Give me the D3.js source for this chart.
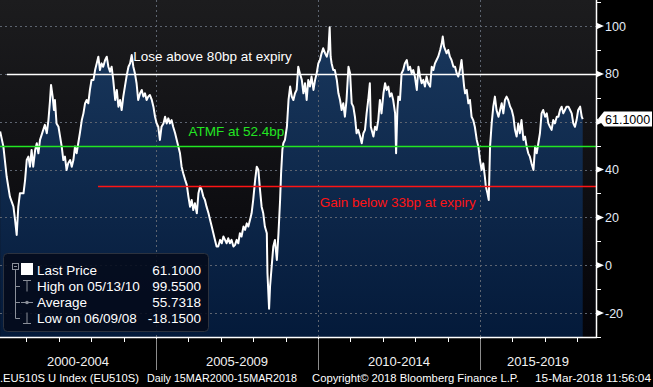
<!DOCTYPE html>
<html>
<head>
<meta charset="utf-8">
<script src="https://d3js.org/d3.v7.min.js"></script>
<style>
  body { margin: 0; background: #000; }
  svg { display: block; }
  .txt { font-family: "Liberation Sans", Arial, sans-serif; }
</style>
</head>
<body>
<div id="chart"></div>
<script>
// dates as fractional years
const dates = [
  2000.19,2000.29,2000.39,2000.49,2000.60,2000.65,2000.70,2000.75,2000.80,2000.91,2000.96,2001.01,2001.06,2001.11,2001.16,2001.21,2001.27,2001.32,2001.37,2001.42,2001.52,2001.57,2001.63,2001.68,2001.73,2001.76,2001.81,2001.85,2001.88,2001.93,2001.99,
  2002.04,2002.09,2002.14,2002.19,2002.24,2002.29,2002.35,2002.40,2002.45,2002.50,2002.55,2002.60,2002.65,2002.71,2002.76,2002.81,2002.86,2002.91,2002.96,2003.01,2003.07,2003.12,2003.17,2003.22,
  2003.27,2003.32,2003.37,2003.43,2003.48,2003.53,2003.58,2003.63,2003.68,2003.74,2003.79,2003.84,2003.89,2003.94,2003.99,2004.04,2004.09,2004.15,2004.20,2004.25,2004.30,2004.35,2004.40,2004.45,2004.51,2004.56,2004.61,2004.66,2004.71,2004.76,2004.81,2004.87,2004.92,2004.97,
  2005.02,2005.07,2005.12,2005.17,2005.23,2005.28,2005.33,2005.38,2005.43,2005.48,2005.53,2005.59,2005.64,2005.69,2005.74,2005.79,2005.84,2005.90,2005.95,2006.00,2006.05,2006.10,2006.15,2006.20,2006.26,2006.31,
  2006.36,2006.41,2006.46,2006.51,2006.56,2006.62,2006.67,2006.72,2006.77,2006.82,2006.87,2006.92,2006.98,2007.03,2007.08,2007.13,2007.18,2007.23,2007.28,2007.33,2007.39,2007.44,2007.49,2007.54,2007.59,2007.64,2007.70,2007.75,2007.80,2007.85,2007.90,2007.95,
  2008.00,2008.06,2008.11,2008.16,2008.21,2008.26,2008.31,2008.36,2008.42,2008.44,2008.49,2008.52,2008.57,2008.62,2008.67,2008.73,2008.78,2008.83,2008.86,2008.90,2008.93,2008.98,2009.04,2009.09,2009.14,2009.19,2009.24,2009.29,2009.34,2009.39,
  2009.44,2009.50,2009.55,2009.60,2009.65,2009.70,2009.75,2009.80,2009.86,2009.91,2009.96,2010.01,2010.06,2010.11,2010.16,2010.22,2010.27,2010.32,2010.36,2010.39,2010.42,2010.47,2010.52,2010.58,2010.63,2010.68,2010.73,2010.78,2010.83,2010.88,2010.94,2010.99,
  2011.04,2011.09,2011.14,2011.19,2011.24,2011.30,2011.35,2011.40,2011.45,2011.50,2011.55,2011.60,2011.63,2011.71,2011.76,2011.81,2011.86,2011.91,2011.96,2012.02,2012.07,2012.12,2012.17,2012.22,2012.27,2012.32,2012.38,2012.41,2012.45,2012.48,
  2012.53,2012.58,2012.63,2012.68,2012.74,2012.79,2012.84,2012.89,2012.94,2012.99,2013.05,2013.10,2013.15,2013.20,2013.25,2013.30,2013.35,2013.40,2013.46,2013.51,2013.56,2013.61,2013.66,2013.71,2013.77,2013.82,2013.85,2013.89,2013.97,
  2014.02,2014.07,2014.12,2014.18,2014.23,2014.28,2014.33,2014.38,2014.43,2014.46,2014.51,2014.54,2014.59,2014.64,2014.69,2014.74,2014.79,2014.84,2014.90,2014.95,2015.00,2015.05,2015.10,2015.15,2015.18,2015.23,2015.27,2015.29,2015.31,2015.36,2015.41,2015.46,2015.51,2015.57,
  2015.62,2015.67,2015.72,2015.77,2015.82,2015.87,2015.93,2015.98,2016.03,2016.08,2016.13,2016.18,2016.23,2016.28,2016.34,2016.39,2016.44,2016.49,2016.54,2016.59,2016.65,2016.70,2016.75,2016.80,2016.85,2016.90,2016.95,
  2017.01,2017.06,2017.11,2017.16,2017.21,2017.26,2017.31,2017.37,2017.42,2017.47,2017.52,2017.57,2017.62,2017.67,2017.73,2017.78,2017.83,2017.88,2017.93,2017.98,2018.03,2018.09,2018.14,2018.17
];
const values = [
  55.9,49.6,37.1,28.7,24.5,19.0,12.7,24.5,30.1,30.1,35.7,44.0,45.4,41.2,48.2,41.2,48.2,51.0,46.8,52.4,56.6,58.7,55.2,60.7,69.1,75.4,70.5,64.9,69.1,59.3,57.9,
  53.8,49.6,44.0,45.4,39.8,42.6,44.0,41.2,44.0,49.6,46.8,51.0,55.2,60.7,63.5,67.7,69.1,67.7,73.3,77.5,77.5,81.6,84.4,87.2,
  81.6,84.4,83.0,85.8,87.2,83.0,80.9,83.0,77.5,69.1,73.3,66.3,69.1,64.9,70.5,74.7,78.9,83.0,84.4,87.9,83.0,80.2,76.1,69.1,71.9,73.3,70.5,71.9,69.1,70.5,71.2,69.1,66.3,62.1,
  59.3,57.9,52.4,57.9,59.3,62.1,59.3,61.4,59.3,60.7,57.9,55.2,52.4,49.6,46.8,41.2,38.5,35.7,33.6,28.7,24.5,27.3,23.1,25.9,21.7,30.1,
  32.9,31.5,28.7,27.3,24.5,21.7,18.9,16.2,13.4,10.6,7.8,7.8,10.6,9.2,12.0,10.6,9.2,11.3,9.2,10.6,7.8,8.5,10.6,9.2,13.4,12.0,16.2,14.8,17.5,16.2,18.9,21.7,
  27.3,35.7,41.2,39.8,31.5,24.5,21.7,16.2,13.4,-3.3,-18.2,-8.9,-0.5,7.8,10.6,2.2,13.4,27.3,38.4,48.2,51.0,52.4,57.9,69.1,74.7,70.5,69.1,71.9,73.3,83.0,
  80.3,77.5,71.9,76.1,69.1,77.5,74.7,78.9,73.3,77.5,80.3,84.4,85.8,88.6,90.7,88.6,87.2,90.0,99.5,87.2,84.4,81.6,81.6,77.5,71.9,69.1,64.9,67.7,62.1,69.1,83.0,80.3,
  67.7,66.3,62.1,55.2,56.6,53.8,51.0,55.2,56.6,63.5,69.1,76.1,57.9,53.8,57.9,56.6,60.7,69.1,63.5,71.9,76.1,73.3,74.7,70.5,71.9,69.1,63.5,46.8,64.9,70.5,
  69.1,80.3,81.6,84.4,85.8,81.6,83.0,80.3,81.6,78.9,73.3,83.0,78.9,76.1,77.5,74.7,78.9,76.1,74.7,83.0,81.6,84.4,85.8,87.2,90.0,92.8,95.6,91.4,88.6,
  90.0,87.2,85.8,83.0,83.0,80.3,78.9,81.6,85.8,81.6,74.7,71.9,73.3,67.7,69.1,62.1,60.7,57.9,52.4,49.6,44.0,39.8,42.6,37.0,32.9,30.1,27.3,38.4,49.6,59.3,66.3,70.5,64.9,62.1,
  64.9,67.7,63.5,69.1,70.5,69.1,66.3,64.9,62.1,56.6,53.8,59.3,55.2,60.7,52.4,53.8,49.6,46.8,45.4,42.6,39.8,49.6,46.8,51.0,55.2,63.5,64.9,
  62.1,63.5,59.3,57.9,56.6,60.7,59.3,62.1,62.1,64.9,66.3,63.5,64.9,66.3,66.3,64.9,63.5,59.3,57.9,60.7,64.9,66.3,62.1,61.1
];

const yTicks = [-20, 0, 20, 40, 60, 80, 100];
const yMinorTicks = [-30, -10, 10, 30, 50, 70, 90, 110];
const yearTicks = [2001,2002,2003,2004,2005,2006,2007,2008,2009,2010,2011,2012,2013,2014,2015,2016,2017,2018];
const periodBreaks = [2005, 2010, 2015];
const periodLabels = ["2000-2004", "2005-2009", "2010-2014", "2015-2019"];
const periodBounds = [2000.185, 2005, 2010, 2015, 2018.58];

const refLevels = [80, 50, 33];
const refStarts = [2000.4, 2000.185, 2003.21];
const refColors = ["#ffffff", "#22e622", "#ff1414"];
const notes = ["Lose above 80bp at expiry", "ATMF at 52.4bp", "Gain below 33bp at expiry"];
const noteAt = [[2004.3, 85.5], [2006.0, 54.0], [2010.05, 24.4]];

const lastPrice = 61.1;
const legendNames = ["Last Price", "High on 05/13/10", "Average", "Low on 06/09/08"];
const legendValues = ["61.1000", "99.5500", "55.7318", "-18.1500"];
const footer = [".EU510S U Index (EU510S)", "Daily 15MAR2000-15MAR2018", "Copyright\u00A9 2018 Bloomberg Finance L.P.", "15-Mar-2018 11:56:04"];

const width = 653, height = 387;
const plotW = 596, plotH = 337;

const svg = d3.select("#chart").append("svg")
  .attr("width", width).attr("height", height);

const xScale = d3.scaleLinear().domain([2000.185, 2018.58]).range([0, plotW]);
const yScale = d3.scaleLinear().domain([-30, 110.9]).range([plotH, 0]);
const py = v => Math.round(yScale(v)) + 0.5;

const defs = svg.append("defs");
let bg = defs.append("linearGradient").attr("id", "bg")
  .attr("gradientUnits", "userSpaceOnUse").attr("x1", 0).attr("y1", 0).attr("x2", 0).attr("y2", plotH);
bg.append("stop").attr("offset", "0%").attr("stop-color", "#1c1c1e");
bg.append("stop").attr("offset", "100%").attr("stop-color", "#040409");
let fillGrad = defs.append("linearGradient").attr("id", "areaFill")
  .attr("gradientUnits", "userSpaceOnUse").attr("x1", 0).attr("y1", 0).attr("x2", 0).attr("y2", plotH);
fillGrad.append("stop").attr("offset", "0%").attr("stop-color", "#1b3a60");
fillGrad.append("stop").attr("offset", "100%").attr("stop-color", "#041a3a");

svg.append("rect").attr("width", width).attr("height", height).attr("fill", "#000");
svg.append("rect").attr("width", plotW).attr("height", plotH).attr("fill", "url(#bg)");

const data = dates.map((d, i) => ({date: d, value: values[i]}));

// area under the price
const area = d3.area().x(d => xScale(d.date)).y0(plotH).y1(d => yScale(d.value));
svg.append("path").datum(data).attr("d", area).attr("fill", "url(#areaFill)");

// dashed gridlines
const grid = svg.append("g").attr("stroke", "#5d6470").attr("stroke-dasharray", "2,3").attr("stroke-width", 1);
grid.selectAll("line.h").data(yTicks).join("line").attr("class", "h")
  .attr("x1", 0).attr("x2", plotW)
  .attr("y1", d => py(d)).attr("y2", d => py(d));
grid.selectAll("line.v").data(periodBreaks).join("line").attr("class", "v")
  .attr("y1", 0).attr("y2", plotH)
  .attr("x1", d => Math.round(xScale(d)) + 0.5).attr("x2", d => Math.round(xScale(d)) + 0.5);

// price line
const line = d3.line().x(d => xScale(d.date)).y(d => yScale(d.value));
svg.append("path").datum(data).attr("d", line)
  .attr("fill", "none").attr("stroke", "#fff").attr("stroke-width", 2).attr("stroke-linejoin", "round");

// reference levels
svg.selectAll("line.ref").data(refLevels).join("line").attr("class", "ref")
  .attr("x1", (d, i) => xScale(refStarts[i])).attr("x2", plotW)
  .attr("y1", d => py(d)).attr("y2", d => py(d))
  .attr("stroke", (d, i) => refColors[i]).attr("stroke-width", 1.5);

svg.selectAll("text.note").data(notes).join("text").attr("class", "note txt")
  .attr("x", (d, i) => xScale(noteAt[i][0])).attr("y", (d, i) => yScale(noteAt[i][1]))
  .attr("fill", (d, i) => refColors[i]).style("font-size", "13.5px")
  .text(d => d);

// legend
const leg = svg.append("g");
leg.append("rect").attr("x", 3.5).attr("y", 253.5).attr("width", 205).attr("height", 78).attr("rx", 4)
  .attr("fill", "#040a1a").attr("fill-opacity", 0.88).attr("stroke", "#2c323e");
const rowY = [275, 291, 307, 323];
leg.append("path").attr("d", `M15.5,268 V${rowY[3] - 4.5} M15.5,${rowY[1] - 4.5}H20 M15.5,${rowY[2] - 4.5}H20 M15.5,${rowY[3] - 4.5}H20`)
  .attr("stroke", "#8a8f99").attr("fill", "none");
leg.append("rect").attr("x", 12.5).attr("y", 263.5).attr("width", 6).attr("height", 6).attr("fill", "#040a1a").attr("stroke", "#8a8f99");
leg.append("line").attr("x1", 14).attr("x2", 17).attr("y1", 266.5).attr("y2", 266.5).attr("stroke", "#8a8f99");
leg.append("rect").attr("x", 21).attr("y", 263).attr("width", 12).attr("height", 12).attr("fill", "#fff");
leg.append("path").attr("d", `M23,${rowY[1] - 10.5}H31 M27,${rowY[1] - 10.5}V${rowY[1] + 0.5}`).attr("stroke", "#8a8f99").attr("fill", "none");
leg.append("path").attr("d", `M21,${rowY[2] - 4.5}H33`).attr("stroke", "#8a8f99");
leg.append("circle").attr("cx", 27).attr("cy", rowY[2] - 4.5).attr("r", 1.8).attr("fill", "#8a8f99");
leg.append("path").attr("d", `M23,${rowY[3] + 0.5}H31 M27,${rowY[3] + 0.5}V${rowY[3] - 10.5}`).attr("stroke", "#8a8f99").attr("fill", "none");
leg.selectAll("text.name").data(legendNames).join("text").attr("class", "name txt")
  .attr("x", 37).attr("y", (d, i) => rowY[i]).attr("fill", "#fff").style("font-size", "13.5px").text(d => d);
leg.selectAll("text.val").data(legendValues).join("text").attr("class", "val txt")
  .attr("x", 201).attr("y", (d, i) => rowY[i]).attr("text-anchor", "end")
  .attr("fill", "#fff").style("font-size", "13.5px").text(d => d);

// right axis
const ax = svg.append("g");
ax.append("line").attr("x1", plotW + 0.5).attr("x2", plotW + 0.5).attr("y1", 0).attr("y2", plotH + 1)
  .attr("stroke", "#fff").attr("stroke-width", 1.5);
ax.selectAll("line.minor").data(yMinorTicks).join("line").attr("class", "minor")
  .attr("x1", plotW).attr("x2", plotW + 5)
  .attr("y1", d => py(d)).attr("y2", d => py(d))
  .attr("stroke", "#fff");
ax.selectAll("path.arrow").data(yTicks).join("path").attr("class", "arrow")
  .attr("d", d => { const y = yScale(d); return `M${plotW},${y - 3.5} L${plotW + 8},${y} L${plotW},${y + 3.5} Z`; })
  .attr("fill", "#fff");
// the last price tag covers the tick label nearest to it
const shownTicks = yTicks.filter(d => Math.abs(d - lastPrice) > 5);
ax.selectAll("text.tick").data(shownTicks).join("text").attr("class", "tick txt")
  .attr("x", plotW + 9).attr("y", d => yScale(d) + 4.5)
  .attr("fill", "#e4ecf8").style("font-size", "12.5px")
  .text(d => d < 0 ? "-" + Math.abs(d) : d);

// last price tag
const ly = yScale(lastPrice);
ax.append("path")
  .attr("d", `M${plotW + 2},${ly} L${plotW + 8},${ly - 7.5} H652 V${ly + 7.5} H${plotW + 8} Z`)
  .attr("fill", "#fff");
ax.append("text").attr("class", "txt").attr("x", plotW + 9).attr("y", ly + 4.5)
  .attr("fill", "#000").style("font-size", "12.5px").text(lastPrice.toFixed(4));

// bottom axis
const bx = svg.append("g");
bx.append("line").attr("x1", 0).attr("x2", plotW + 1).attr("y1", plotH + 0.5).attr("y2", plotH + 0.5)
  .attr("stroke", "#fff").attr("stroke-width", 1.5);
bx.selectAll("line.yt").data(yearTicks).join("line").attr("class", "yt")
  .attr("x1", d => Math.round(xScale(d)) + 0.5).attr("x2", d => Math.round(xScale(d)) + 0.5)
  .attr("y1", plotH).attr("y2", plotH + 5).attr("stroke", "#fff");
bx.selectAll("line.sep").data(periodBreaks).join("line").attr("class", "sep")
  .attr("x1", d => Math.round(xScale(d)) + 0.5).attr("x2", d => Math.round(xScale(d)) + 0.5)
  .attr("y1", plotH + 2).attr("y2", 370).attr("stroke", "#8c8c8c");
bx.selectAll("text.period").data(periodLabels).join("text").attr("class", "period txt")
  .attr("x", (d, i) => (xScale(periodBounds[i]) + xScale(periodBounds[i + 1])) / 2)
  .attr("y", 366).attr("text-anchor", "middle")
  .attr("fill", "#f2f2f2").style("font-size", "13px").text(d => d);

// footer
const footX = [0, 147, 312, 535];
const footW = [139, 150, 207, 116];
svg.selectAll("text.foot").data(footer).join("text").attr("class", "foot txt")
  .attr("x", (d, i) => footX[i]).attr("y", 382)
  .attr("textLength", (d, i) => footW[i]).attr("lengthAdjust", "spacingAndGlyphs")
  .attr("fill", "#fff").style("font-size", "11.5px").text(d => d);
</script>
</body>
</html>
